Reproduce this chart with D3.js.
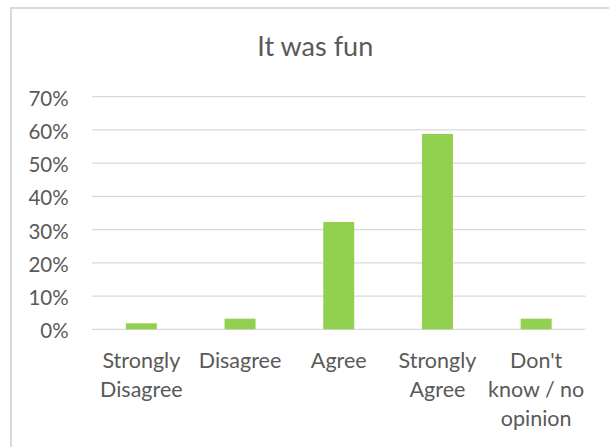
<!DOCTYPE html>
<html>
<head>
<meta charset="utf-8">
<script src="https://cdn.jsdelivr.net/npm/d3@7/dist/d3.min.js"></script>
<style>
  html, body { margin: 0; padding: 0; background: #ffffff; }
  svg { display: block; }
  text { font-family: Lato, "Open Sans", sans-serif; fill: #595959; }
</style>
</head>
<body>
<svg id="chart" width="609" height="447"></svg>
<script>
const title = "It was fun";
const categories = ["Strongly Disagree", "Disagree", "Agree", "Strongly Agree", "Don't know / no opinion"];
const categoryLines = [["Strongly", "Disagree"], ["Disagree"], ["Agree"], ["Strongly", "Agree"], ["Don't", "know / no", "opinion"]];
const values = [0.018, 0.032, 0.323, 0.588, 0.032];
const yTicks = [0, 0.1, 0.2, 0.3, 0.4, 0.5, 0.6, 0.7];

const svg = d3.select("#chart");
const W = 609, H = 447;

svg.append("rect").attr("width", W).attr("height", H).attr("fill", "#fff");
svg.append("rect")
  .attr("x", 11).attr("y", 8).attr("width", 700).attr("height", 600)
  .attr("fill", "none").attr("stroke", "#d9d9d9").attr("stroke-width", 2);

const x = d3.scaleBand().domain(categories).range([92, 585.5])
  .paddingInner(0.686).paddingOuter(0.343);
const y = d3.scaleLinear().domain([0, 0.7]).range([329.3, 96.7]);

// gridlines
svg.append("g").selectAll("line").data(yTicks).join("line")
  .attr("x1", 92).attr("x2", 585.5)
  .attr("y1", d => y(d)).attr("y2", d => y(d))
  .attr("stroke", "#d9d9d9").attr("stroke-width", 1.3);

// y axis labels
const yAxis = d3.axisLeft(y).tickValues(yTicks).tickFormat(d3.format(".0%")).tickSize(0).tickPadding(0);
const yg = svg.append("g").attr("transform", "translate(68.7,0)").call(yAxis);
yg.select(".domain").remove();
yg.selectAll("text")
  .attr("font-family", "Lato, 'Open Sans', sans-serif")
  .attr("font-size", 20.5).attr("fill", "#595959")
  .attr("dy", null).attr("dominant-baseline", "central").attr("y", 0.5);

// bars
svg.append("g").selectAll("rect").data(values).join("rect")
  .attr("x", (d, i) => x(categories[i]))
  .attr("width", x.bandwidth())
  .attr("y", d => y(d))
  .attr("height", d => y(0) - y(d))
  .attr("fill", "#92d050");

// category labels
const xg = svg.append("g");
categories.forEach((c, i) => {
  const t = xg.append("text")
    .attr("text-anchor", "middle")
    .attr("font-size", 21.5)
    .attr("x", x(c) + x.bandwidth() / 2)
    .attr("y", 368.3);
  categoryLines[i].forEach((ln, j) => {
    t.append("tspan").attr("x", x(c) + x.bandwidth() / 2)
      .attr("y", 368.3 + j * 28.7).text(ln);
  });
});

// title
svg.append("text").attr("x", 315.3).attr("y", 56)
  .attr("text-anchor", "middle").attr("font-size", 27).text(title);
</script>
</body>
</html>
